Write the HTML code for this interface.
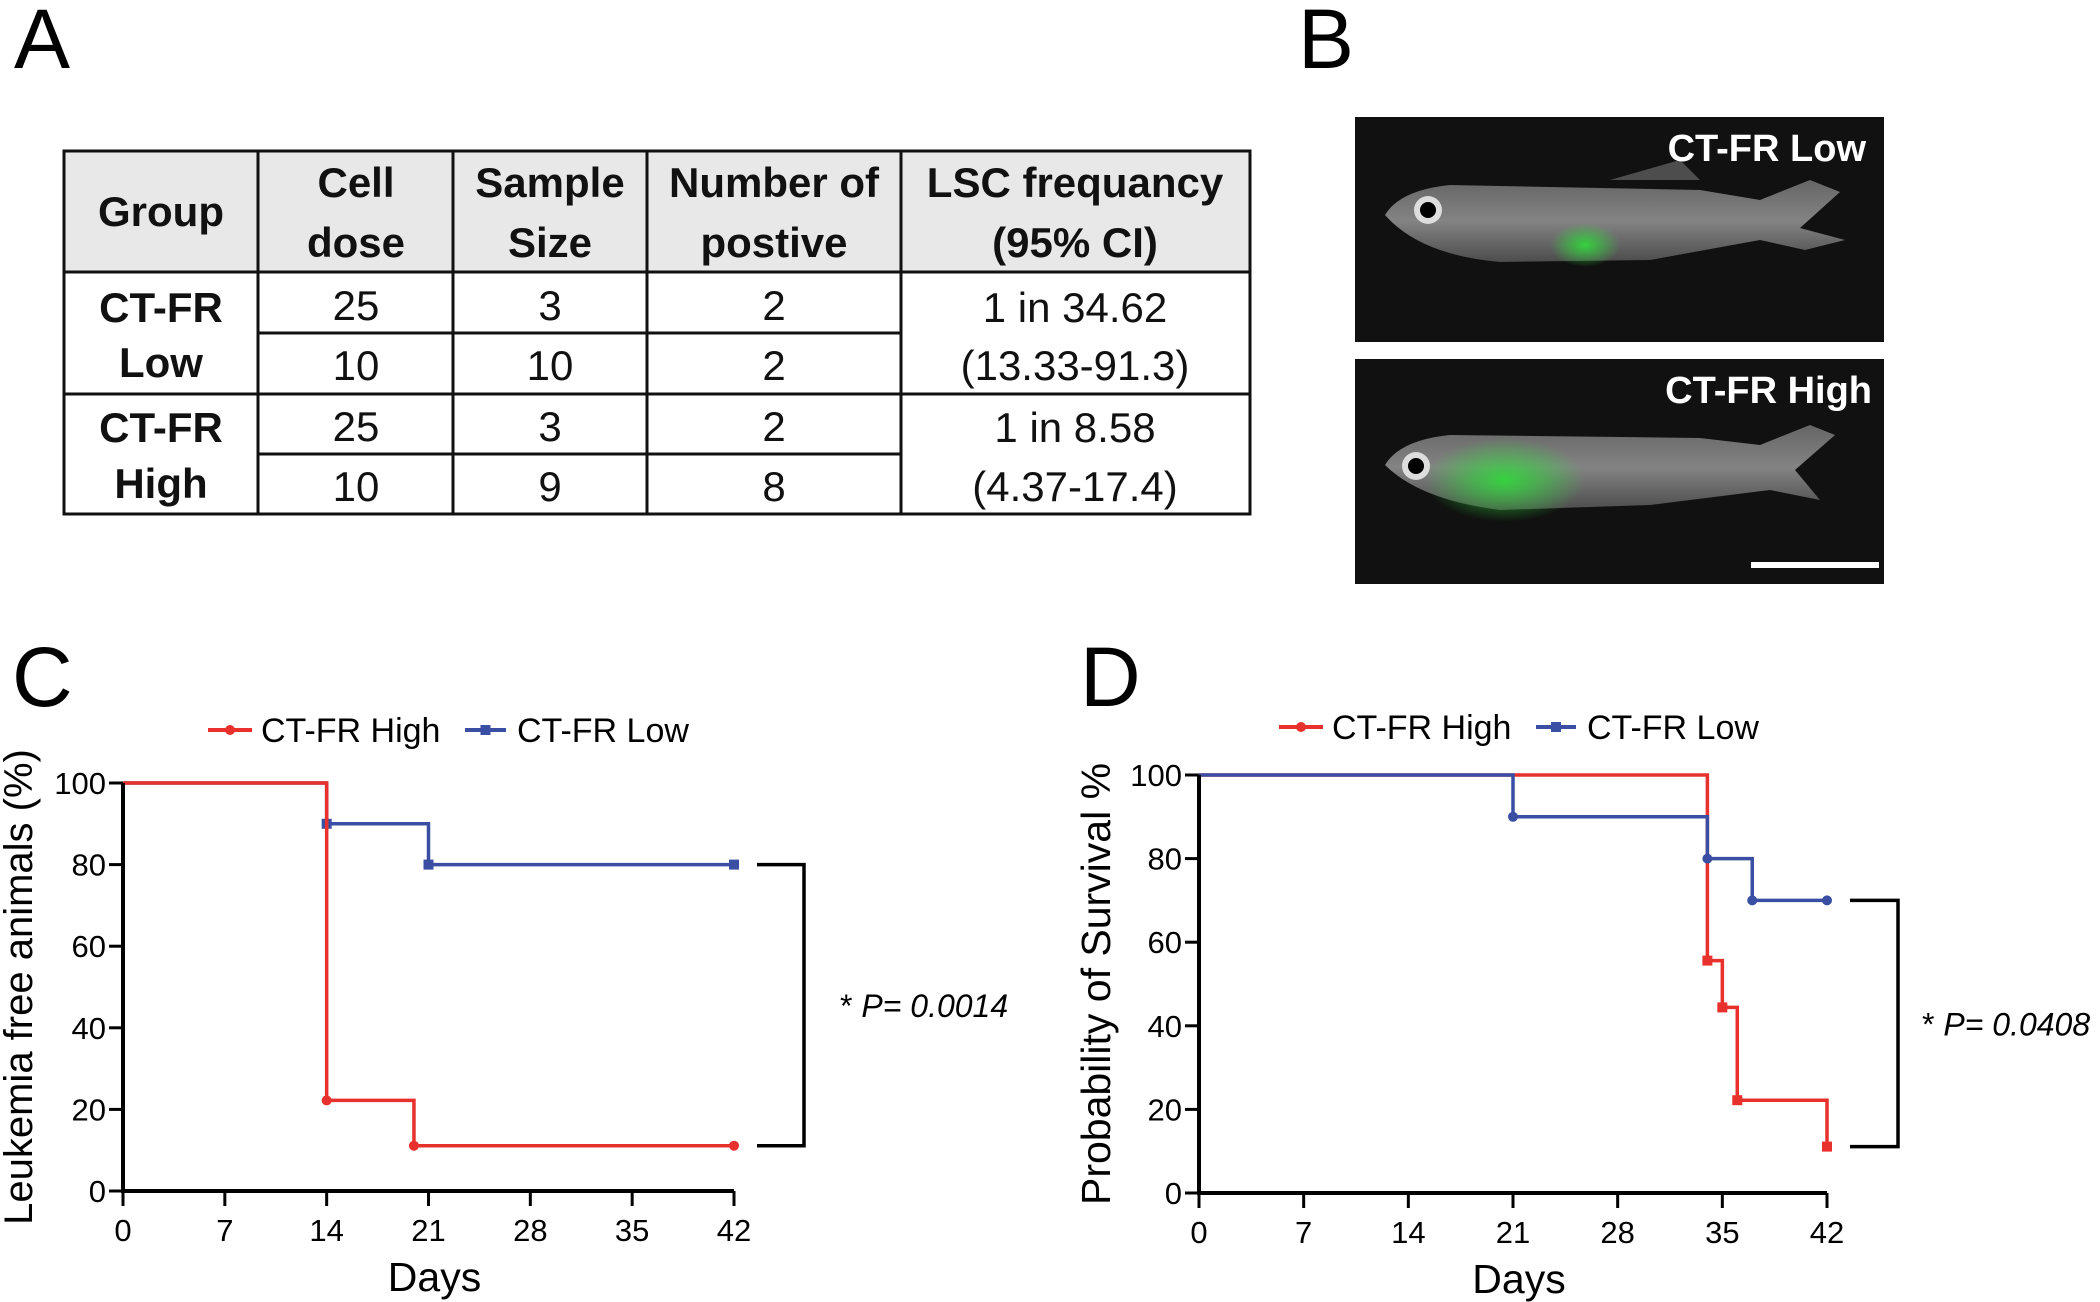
<!DOCTYPE html>
<html><head><meta charset="utf-8"><style>
body{margin:0;background:#fff;}
svg{display:block;font-family:"Liberation Sans",Arial,sans-serif;}
</style></head><body>
<svg id="fig" width="2100" height="1302" viewBox="0 0 2100 1302" xmlns="http://www.w3.org/2000/svg">
<text x="14" y="68" font-size="84">A</text>
<text x="1298" y="68" font-size="84">B</text>
<text x="12" y="706" font-size="84">C</text>
<text x="1080" y="706" font-size="84">D</text>

<g>
<rect x="64" y="151" width="1186" height="121" fill="#e8e8e8"/>
<g stroke="#111" stroke-width="3" fill="none">
<rect x="64" y="151" width="1186" height="363"/>
<line x1="64" y1="272" x2="1250" y2="272"/>
<line x1="64" y1="394" x2="1250" y2="394"/>
<line x1="258" y1="333" x2="901" y2="333"/>
<line x1="258" y1="454" x2="901" y2="454"/>
<line x1="258" y1="151" x2="258" y2="514"/>
<line x1="453" y1="151" x2="453" y2="514"/>
<line x1="647" y1="151" x2="647" y2="514"/>
<line x1="901" y1="151" x2="901" y2="514"/>
</g>
<g font-size="42" text-anchor="middle" fill="#111">
<g font-weight="bold">
<text x="161" y="226">Group</text>
<text x="356" y="197">Cell</text><text x="356" y="257">dose</text>
<text x="550" y="197">Sample</text><text x="550" y="257">Size</text>
<text x="774" y="197">Number of</text><text x="774" y="257">postive</text>
<text x="1075" y="197">LSC frequancy</text><text x="1075" y="257">(95% CI)</text>
<text x="161" y="322">CT-FR</text><text x="161" y="377">Low</text>
<text x="161" y="442">CT-FR</text><text x="161" y="498">High</text>
</g>
<g>
<text x="356" y="320">25</text><text x="550" y="320">3</text><text x="774" y="320">2</text>
<text x="356" y="380">10</text><text x="550" y="380">10</text><text x="774" y="380">2</text>
<text x="356" y="441">25</text><text x="550" y="441">3</text><text x="774" y="441">2</text>
<text x="356" y="501">10</text><text x="550" y="501">9</text><text x="774" y="501">8</text>
<text x="1075" y="322">1 in 34.62</text><text x="1075" y="380">(13.33-91.3)</text>
<text x="1075" y="442">1 in 8.58</text><text x="1075" y="501">(4.37-17.4)</text>
</g>
</g>
</g>

<defs>
<radialGradient id="gl1"><stop offset="0" stop-color="#2fdc3a" stop-opacity="0.9"/><stop offset="1" stop-color="#2fdc3a" stop-opacity="0"/></radialGradient>
<linearGradient id="body" x1="0" y1="0" x2="0" y2="1"><stop offset="0" stop-color="#8a8a8a"/><stop offset="0.5" stop-color="#b4b4b4"/><stop offset="1" stop-color="#666"/></linearGradient>
</defs>
<g>
<rect x="1355" y="117" width="529" height="225" fill="#111"/>
<path d="M1385 215 Q1400 190 1450 185 L1700 190 L1760 200 L1810 180 L1840 192 L1800 228 L1845 240 L1805 250 L1760 240 L1650 260 L1500 262 Q1420 255 1385 215Z" fill="url(#body)" opacity="0.7"/>
<path d="M1610 180 L1680 160 L1700 180Z" fill="#777" opacity="0.6"/>
<ellipse cx="1585" cy="245" rx="35" ry="22" fill="url(#gl1)"/>
<circle cx="1428" cy="210" r="14" fill="#ddd"/><circle cx="1428" cy="210" r="8" fill="#000"/>
<text x="1866" y="161" font-size="38" font-weight="bold" fill="#fff" text-anchor="end">CT-FR Low</text>
</g>
<g>
<rect x="1355" y="359" width="529" height="225" fill="#111"/>
<path d="M1385 465 Q1400 440 1450 435 L1700 438 L1760 445 L1810 425 L1835 435 L1795 470 L1820 500 L1770 490 L1650 505 L1500 510 Q1420 500 1385 465Z" fill="url(#body)" opacity="0.7"/>
<ellipse cx="1505" cy="480" rx="80" ry="42" fill="url(#gl1)"/>
<circle cx="1416" cy="466" r="14" fill="#ddd"/><circle cx="1416" cy="466" r="8" fill="#000"/>
<text x="1872" y="403" font-size="38" font-weight="bold" fill="#fff" text-anchor="end">CT-FR High</text>
<rect x="1751" y="562" width="128" height="6" fill="#fff"/>
</g>
<g id="chartC"></g>
<g id="chartD"></g>
</svg>
<script>
const ticksX = [0,7,14,21,28,35,42];
const ticksY = [0,20,40,60,80,100];
const cHighX = [0,14,20,42];
const cHighY = [100,22.2,11.1,11.1];
const cHighMarks = [1,2,3];
const cLowX = [0,14,21,42];
const cLowY = [100,90,80,80];
const cLowMarks = [1,2,3];
const dHighX = [0,34,35,36,42];
const dHighY = [100,55.6,44.4,22.2,11.1];
const dHighMarks = [1,2,3,4];
const dLowX = [0,21,34,37,42];
const dLowY = [100,90,80,70,70];
const dLowMarks = [1,2,3,4];
const NS='http://www.w3.org/2000/svg';
function mk(p,tag,at){const e=document.createElementNS(NS,tag);for(const k in at)e.setAttribute(k,at[k]);p.appendChild(e);return e;}
function chart(gid,cfg){
  const g=document.getElementById(gid);
  const sx=v=>cfg.x0+(v-0)/42*(cfg.x1-cfg.x0);
  const sy=v=>cfg.y0+(100-v)/100*(cfg.y1-cfg.y0);
  function series(xs,ys,marks,color,sq,name){
    let d='M'+sx(xs[0])+' '+sy(ys[0]);
    for(let i=1;i<xs.length;i++){d+=' H'+sx(xs[i])+' V'+sy(ys[i]);}
    const p=mk(g,'path',{d:d,fill:'none',stroke:color,'stroke-width':3.5});
    
    
    marks.forEach(i=>{
      let m;
      if(sq) m=mk(g,'rect',{x:sx(xs[i])-5,y:sy(ys[i])-5,width:10,height:10,fill:color});
      else m=mk(g,'circle',{cx:sx(xs[i]),cy:sy(ys[i]),r:5,fill:color});
      
      
    });
  }
  cfg.order.forEach(s=>series(...s));
  const ax=mk(g,'path',{d:`M${cfg.x0} ${cfg.y0} V${cfg.y1} H${cfg.x1}`,fill:'none',stroke:'#000','stroke-width':4});
  
  
  ticksX.forEach(t=>{
    mk(g,'line',{x1:sx(t),x2:sx(t),y1:cfg.y1,y2:cfg.y1+15,stroke:'#000','stroke-width':3});
    const tx=mk(g,'text',{x:sx(t),y:cfg.y1+50,'font-size':31,'text-anchor':'middle'});tx.textContent=t;
    
    
  });
  ticksY.forEach(t=>{
    mk(g,'line',{x1:cfg.x0-14,x2:cfg.x0,y1:sy(t),y2:sy(t),stroke:'#000','stroke-width':3});
    const tx=mk(g,'text',{x:cfg.x0-17,y:sy(t)+11,'font-size':31,'text-anchor':'end'});tx.textContent=t;
    
    
  });
  const xt=mk(g,'text',{x:(cfg.x0+cfg.x1)/2+6,y:cfg.y1+100,'font-size':41,'text-anchor':'middle'});xt.textContent='Days';
  
  
  const yt=mk(g,'text',{x:0,y:0,'font-size':cfg.ytfs,'text-anchor':'middle',transform:`translate(${cfg.ytx},${(cfg.y0+cfg.y1)/2-cfg.ytOff}) rotate(-90)`});yt.textContent=cfg.ytitle;
  
  
  const L=cfg.leg;
  mk(g,'line',{x1:L.r1,x2:L.r2,y1:L.y,y2:L.y,stroke:'#e8312c','stroke-width':4});
  mk(g,'circle',{cx:(L.r1+L.r2)/2,cy:L.y,r:5,fill:'#e8312c'});
  const l1=mk(g,'text',{x:L.r2+9,y:L.y+12,'font-size':34});l1.textContent='CT-FR High';
  
  
  mk(g,'line',{x1:L.b1,x2:L.b2,y1:L.y,y2:L.y,stroke:'#3a4fa3','stroke-width':4});
  mk(g,'rect',{x:(L.b1+L.b2)/2-5,y:L.y-5,width:10,height:10,fill:'#3a4fa3'});
  const l2=mk(g,'text',{x:L.b2+11,y:L.y+12,'font-size':34});l2.textContent='CT-FR Low';
  
  
  const B=cfg.br;
  const br=mk(g,'path',{d:`M${B.x1} ${sy(B.top)} H${B.x2} V${sy(B.bot)} H${B.x1}`,fill:'none',stroke:'#000','stroke-width':3.5});
  
  
  const pt=mk(g,'text',{x:B.tx,y:(sy(B.top)+sy(B.bot))/2+12,'font-size':32});
  pt.innerHTML='*  <tspan font-style="italic">P= '+B.p+'</tspan>';
  
  
}
chart('chartC',{x0:123,x1:734,y0:783,y1:1191,ytx:32,ytOff:0,ytfs:40,ytitle:'Leukemia free animals (%)',
  order:[[cLowX,cLowY,cLowMarks,'#3a4fa3',true,'low'],[cHighX,cHighY,cHighMarks,'#e8312c',false,'high']],
  leg:{y:730,r1:208,r2:252,b1:465,b2:506},
  br:{x1:757,x2:804,top:80,bot:11.1,tx:840,p:'0.0014'}});
chart('chartD',{x0:1199,x1:1827,y0:775,y1:1193,ytx:1110,ytOff:0,ytfs:41,ytitle:'Probability of Survival %',
  order:[[dHighX,dHighY,dHighMarks,'#e8312c',true,'high'],[dLowX,dLowY,dLowMarks,'#3a4fa3',false,'low']],
  leg:{y:727,r1:1279,r2:1323,b1:1536,b2:1576},
  br:{x1:1850,x2:1898,top:70,bot:11.1,tx:1922,p:'0.0408'}});
</script>
</body></html>
